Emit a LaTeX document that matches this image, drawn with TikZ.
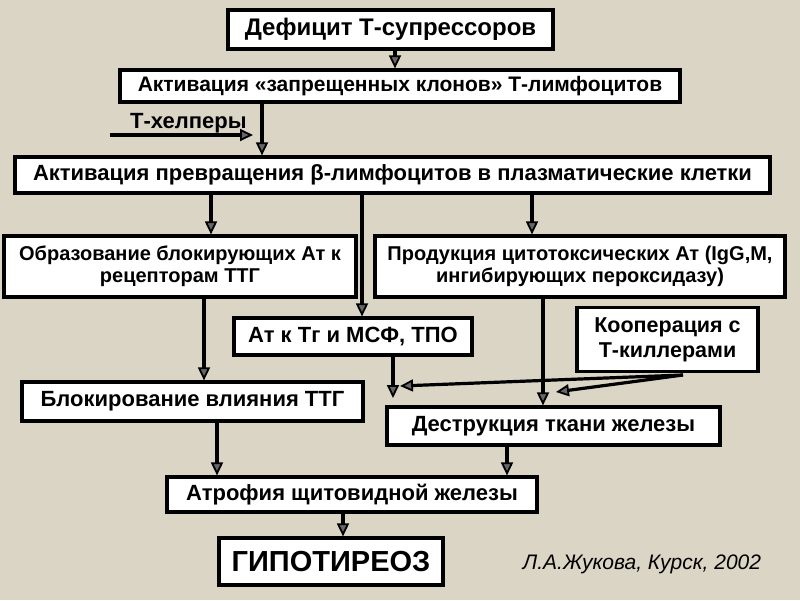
\documentclass[tikz,border=0pt]{standalone}
\usepackage{fontspec}
\setmainfont{Liberation Sans}
\usetikzlibrary{arrows.meta}
\definecolor{bgcol}{RGB}{219,213,198}
\begin{document}
\begin{tikzpicture}[x=1pt,y=-1pt,
  box/.style={draw=black,fill=white,line width=3.2pt,inner sep=0pt,align=center,font=\bfseries},
  conn/.style={draw=black,line width=3.2pt,-{Triangle[length=13pt,width=12pt,fill=black!60,line width=1.8pt]}}]
\fill[bgcol] (0,0) rectangle (800,600);
\useasboundingbox (0,0) rectangle (800,600);
% boxes
\node[box,minimum width=325pt,minimum height=39pt,font=\bfseries\fontsize{24}{26}\selectfont] (b1) at (390.5,29.5) {Дефицит Т-супрессоров};
\node[box,minimum width=560pt,minimum height=32pt,font=\bfseries\fontsize{21}{23}\selectfont] (b2) at (400,86) {Активация «запрещенных клонов» Т-лимфоцитов};
\node[box,minimum width=755pt,minimum height=36pt,font=\bfseries\fontsize{22}{24}\selectfont] (b3) at (392.5,175) {Активация превращения β-лимфоцитов в плазматические клетки};
\node[box,minimum width=352pt,minimum height=61pt,font=\bfseries\fontsize{20}{22}\selectfont] (b4) at (180,266.5) {Образование блокирующих Ат к\\рецепторам ТТГ};
\node[box,minimum width=410pt,minimum height=61pt,font=\bfseries\fontsize{20}{22}\selectfont] (b5) at (580,266.5) {Продукция цитотоксических Ат (IgG,M,\\ингибирующих пероксидазу)};
\node[box,minimum width=238pt,minimum height=37pt,font=\bfseries\fontsize{22}{24}\selectfont] (b6) at (353,336.5) {Ат к Тг и МСФ, ТПО};
\node[box,minimum width=181pt,minimum height=64pt,font=\bfseries\fontsize{21.5}{25}\selectfont] (b7) at (667.5,339.5) {Кооперация с\\Т-киллерами};
\node[box,minimum width=341pt,minimum height=39pt,font=\bfseries\fontsize{22}{24}\selectfont] (b8) at (192.5,401.5) {Блокирование влияния ТТГ};
\node[box,minimum width=333pt,minimum height=38pt,font=\bfseries\fontsize{22}{24}\selectfont] (b9) at (553.5,426) {Деструкция ткани железы};
\node[box,minimum width=370pt,minimum height=35pt,font=\bfseries\fontsize{22}{24}\selectfont] (b10) at (352,494.5) {Атрофия щитовидной железы};
\node[box,minimum width=224pt,minimum height=47pt,font=\bfseries\fontsize{29}{31}\selectfont] (b11) at (331,561.5) {ГИПОТИРЕОЗ};
\node[font=\itshape\fontsize{21}{23}\selectfont] (auth) at (642,564) {Л.А.Жукова, Курск, 2002};
\node[font=\bfseries\fontsize{22}{24}\selectfont,anchor=base west,inner sep=0pt] (th) at (130,128) {Т-хелперы};
% connectors
\draw[conn] (b1.south -| 395,0) -- (b2.north -| 395,0);
\coordinate (thstart) at (110,135);
\coordinate (thend) at (253,135);
\draw[conn] (thstart) -- (thend);
\draw[conn] (b2.south -| 262,0) -- (b3.north -| 262,0);
\draw[conn] (b3.south -| 211,0) -- (b4.north -| 211,0);
\draw[conn] (b3.south -| 532,0) -- (b5.north -| 532,0);
\draw[conn] (b3.south -| 362,0) -- (b6.north -| 362,0);
\draw[conn] (b4.south -| 204,0) -- (b8.north -| 204,0);
\coordinate (b6end) at (393,398);
\draw[conn] (b6.south -| 393,0) -- (b6end);
\draw[conn] (b5.south -| 543,0) -- (b9.north -| 543,0);
\coordinate (kfork) at (683,375);
\coordinate (kend1) at (400,386);
\coordinate (kend2) at (556,392);
\draw[conn] (kfork) -- (kend1);
\draw[conn] (kfork) -- (kend2);
\draw[conn] (b8.south -| 217,0) -- (b10.north -| 217,0);
\draw[conn] (b9.south -| 507,0) -- (b10.north -| 507,0);
\draw[conn] (b10.south -| 343,0) -- (b11.north -| 343,0);
\end{tikzpicture}
\end{document}
